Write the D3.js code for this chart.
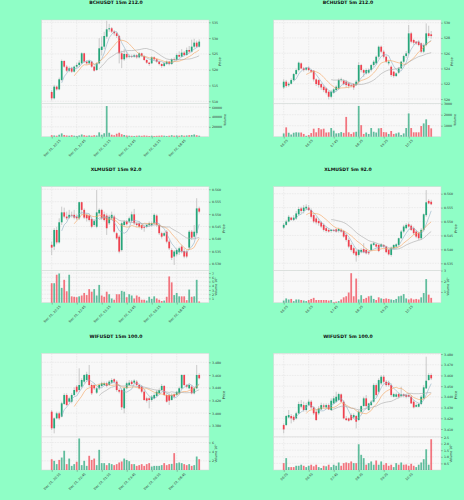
<!DOCTYPE html>
<html><head><meta charset="utf-8">
<script src="https://cdn.jsdelivr.net/npm/d3@7"></script>
<style>html,body{margin:0;padding:0;background:#8ffec6;}svg{display:block;}</style>
</head><body>
<script>
// ---------- DATA ----------
const tickIdx = [0, 10, 20, 30, 40, 50];
const labels15 = ["Dec 01, 20:15","Dec 01, 22:45","Dec 02, 01:15","Dec 02, 03:45","Dec 02, 06:15","Dec 02, 08:45"];
const labels5 = ["06:05","06:55","07:45","08:35","09:25","10:15"];
const maWindows = [5, 10, 20];

// rows: [open, high, low, close, volume]
const bch15 = [
[512.95,513.5,510.3,510.95,3000],[510.95,515.2,510.6,514.64,2500],[514.64,515.0,513.4,513.79,2000],[513.79,517.5,513.5,516.96,4000],
[516.75,523.2,516.4,522.76,6700],[522.76,523.0,520.6,520.97,3500],[520.97,521.5,519.3,519.70,2500],[519.70,521.0,519.2,520.44,2000],
[520.44,520.9,519.0,519.39,3000],[519.39,521.3,519.1,520.97,2000],[520.97,522.2,520.5,521.50,1500],[521.50,523.0,521.0,522.23,2500],
[522.02,525.5,521.8,525.19,4500],[525.19,525.4,522.2,522.55,3000],[522.55,523.0,521.6,522.02,2000],[522.02,523.2,521.7,522.76,2500],
[522.55,522.8,520.6,520.97,2000],[520.97,521.3,519.4,519.70,3000],[519.91,522.4,519.6,522.02,2500],[522.02,530.0,521.7,526.77,8800],
[526.24,530.5,524.5,527.30,4000],[527.30,532.0,526.5,530.67,7000],[530.46,535.5,529.8,532.78,62000],[532.78,534.5,532.0,533.10,8000],
[533.10,533.5,531.6,532.05,4000],[532.05,532.5,530.8,531.52,3000],[531.52,531.9,530.0,530.67,6000],[530.67,531.0,522.0,525.19,8000],
[525.19,526.0,520.5,523.29,5000],[523.29,526.5,522.8,524.98,3500],[524.98,525.5,523.5,523.92,2500],[524.13,524.9,523.6,524.34,2000],
[524.34,524.8,523.7,524.13,1800],[524.13,525.0,523.8,524.56,1500],[524.56,524.9,523.5,523.92,2000],[523.92,525.5,523.6,525.19,2200],
[525.19,525.4,524.0,524.34,1800],[524.34,524.6,522.8,523.08,2500],[523.08,523.3,521.9,522.23,2000],[522.23,522.5,521.2,521.81,1500],
[522.02,524.3,521.8,523.92,2000],[523.92,524.2,522.9,523.29,1500],[523.29,523.5,522.2,522.55,1800],[522.55,522.8,521.4,521.81,2000],
[521.81,522.0,520.6,521.18,2500],[521.18,522.3,520.8,522.02,2000],[521.81,522.9,521.5,522.55,1500],[522.55,522.8,521.4,521.81,2000],
[521.81,523.6,521.5,523.29,3000],[523.29,523.9,522.7,523.08,2000],[523.08,525.2,522.8,524.66,2500],[524.66,525.8,523.8,524.13,2000],
[524.13,526.5,523.9,525.40,3000],[525.40,525.9,524.3,524.66,2000],[524.66,527.0,524.4,526.24,2500],[526.24,527.5,525.3,525.72,3000],
[525.72,529.5,525.4,527.30,3500],[527.30,529.8,526.8,528.56,4500],[528.56,529.2,527.0,527.30,3000],[527.30,529.6,527.0,528.88,2000]
];
const bch5 = [
[521.52,522.6,521.3,522.27,300],[522.27,522.5,521.5,521.70,850],[521.80,522.2,521.6,522.00,360],[522.00,522.7,521.9,522.48,200],
[522.48,523.4,522.3,523.27,360],[523.27,524.0,523.1,523.79,400],[523.79,524.9,523.6,524.76,380],[524.67,524.8,523.9,524.01,380],
[524.01,524.2,523.6,523.79,250],[523.85,524.2,523.7,524.10,80],[524.10,524.3,523.6,523.79,150],[523.79,523.9,523.4,523.58,330],
[523.71,523.8,522.3,522.57,730],[522.57,522.7,521.7,521.96,400],[522.48,522.6,521.5,521.83,790],[521.96,522.1,521.2,521.52,670],
[521.61,521.8,520.9,521.17,730],[521.39,521.5,520.6,520.82,380],[520.95,521.1,519.95,520.30,400],[520.30,521.2,520.1,520.95,790],
[520.82,521.4,520.7,521.26,550],[521.17,521.8,521.0,521.61,300],[521.39,522.7,521.2,522.48,320],[522.48,522.8,522.2,522.57,420],
[522.40,522.6,521.8,521.96,350],[522.27,522.5,521.5,521.83,1800],[522.05,522.2,521.4,521.70,400],[521.83,522.0,521.5,521.74,250],
[521.96,522.1,521.2,521.52,400],[521.83,522.5,521.7,522.27,450],[522.27,524.8,522.0,524.45,2800],[524.45,524.6,523.5,523.79,1050],
[523.79,523.9,522.9,523.45,250],[523.36,524.0,523.2,523.79,380],[523.45,524.0,523.3,523.79,250],[523.79,524.6,523.6,524.45,790],
[524.45,525.1,524.2,524.89,450],[524.67,525.7,524.5,525.54,380],[525.54,527.0,525.3,526.85,760],[526.85,527.0,526.0,526.20,790],
[526.20,526.4,525.3,525.54,420],[525.54,525.7,524.7,524.89,400],[524.67,525.1,524.4,524.89,250],[524.23,524.4,522.9,523.14,520],
[523.58,523.7,522.8,523.01,250],[523.01,523.5,522.9,523.36,300],[523.45,524.2,523.3,524.01,380],[524.01,525.0,523.9,524.89,150],
[524.89,525.8,524.7,525.63,300],[525.63,526.3,525.4,525.98,790],[525.98,529.7,525.8,528.60,2120],[528.60,528.8,527.3,527.51,790],
[527.73,527.9,527.1,527.38,400],[527.51,527.6,527.1,527.29,400],[527.51,527.7,526.9,527.07,400],[527.29,527.4,526.0,526.20,970],
[526.20,527.3,526.0,527.07,1210],[527.07,529.9,526.9,528.60,1580],[528.60,529.6,528.0,528.25,1060],[528.47,528.9,527.9,528.25,760]
];
// XLM volumes in millions
const xlm15 = [
[.5376,.5389,.5335,.5365,4.6],[.5369,.5443,.5355,.5436,4.6],[.5436,.5449,.5378,.5386,6.6],[.5386,.5483,.5381,.5467,6.9],
[.5467,.5530,.5456,.5507,3.5],[.5507,.5526,.5483,.5490,5.4],[.5490,.5510,.5476,.5483,2.7],[.5486,.5517,.5480,.5497,6.6],
[.5497,.5510,.5486,.5494,1.5],[.5497,.5517,.5479,.5486,1.4],[.5490,.5499,.5476,.5483,1.3],[.5483,.5550,.5476,.5548,1.5],
[.5548,.5550,.5497,.5517,1.7],[.5517,.5523,.5480,.5486,2.3],[.5497,.5503,.5470,.5483,1.8],[.5494,.5499,.5470,.5476,3.2],
[.5480,.5486,.5443,.5449,2.6],[.5456,.5480,.5449,.5472,3.2],[.5449,.5597,.5443,.5507,1.7],[.5503,.5523,.5497,.5517,4.2],
[.5517,.5521,.5476,.5483,1.7],[.5499,.5510,.5470,.5476,1.4],[.5494,.5503,.5416,.5443,2.6],[.5463,.5497,.5456,.5488,2.0],
[.5483,.5510,.5476,.5497,1.0],[.5490,.5497,.5423,.5429,0.7],[.5423,.5429,.5396,.5402,2.0],[.5409,.5416,.5342,.5349,2.0],
[.5355,.5470,.5349,.5463,2.8],[.5456,.5476,.5449,.5470,2.6],[.5470,.5476,.5454,.5459,1.3],[.5470,.5490,.5463,.5483,2.0],
[.5472,.5510,.5467,.5499,1.7],[.5499,.5521,.5456,.5463,1.0],[.5462,.5467,.5449,.5456,1.7],[.5463,.5470,.5443,.5449,1.4],
[.5456,.5463,.5436,.5443,0.7],[.5449,.5456,.5429,.5445,0.7],[.5449,.5463,.5443,.5456,0.5],[.5456,.5470,.5449,.5463,1.4],
[.5456,.5470,.5449,.5463,0.9],[.5463,.5503,.5456,.5497,1.5],[.5494,.5499,.5449,.5456,1.0],[.5456,.5463,.5416,.5423,0.7],
[.5423,.5429,.5402,.5409,0.4],[.5413,.5429,.5409,.5423,0.5],[.5429,.5436,.5382,.5389,1.4],[.5389,.5396,.5355,.5362,6.2],
[.5355,.5362,.5315,.5324,4.8],[.5329,.5355,.5295,.5349,1.8],[.5338,.5362,.5329,.5355,2.3],[.5346,.5369,.5335,.5362,1.5],
[.5369,.5376,.5342,.5349,1.5],[.5351,.5362,.5322,.5329,1.5],[.5349,.5355,.5322,.5329,0.6],[.5365,.5436,.5355,.5429,3.1],
[.5429,.5436,.5396,.5405,1.4],[.5409,.5456,.5402,.5429,1.5],[.5423,.5564,.5416,.5523,5.4],[.5523,.5530,.5503,.5510,0.3]
];
const xlm5 = [
[.5478,.5494,.5473,.5488,0.2],[.5488,.5506,.5485,.5500,0.4],[.5500,.5523,.5497,.5517,0.3],[.5514,.5517,.5502,.5506,0.35],
[.5506,.5523,.5502,.5514,0.15],[.5511,.5538,.5506,.5529,0.3],[.5526,.5553,.5523,.5545,0.3],[.5547,.5553,.5529,.5538,0.25],
[.5538,.5559,.5529,.5550,0.2],[.5547,.5562,.5541,.5553,0.15],[.5550,.5559,.5538,.5541,0.25],[.5541,.5547,.5511,.5517,0.35],
[.5523,.5529,.5494,.5500,0.45],[.5511,.5517,.5490,.5497,0.25],[.5502,.5511,.5485,.5494,0.25],[.5497,.5502,.5476,.5482,0.25],
[.5488,.5494,.5464,.5470,0.25],[.5476,.5482,.5460,.5466,0.25],[.5470,.5476,.5460,.5464,0.2],[.5466,.5473,.5460,.5470,0.25],
[.5470,.5473,.5464,.5466,0.05],[.5472,.5476,.5460,.5464,0.1],[.5466,.5478,.5460,.5473,0.15],[.5470,.5476,.5460,.5464,0.3],
[.5466,.5470,.5442,.5446,0.5],[.5452,.5458,.5428,.5434,0.6],[.5434,.5440,.5404,.5410,0.95],[.5416,.5422,.5392,.5398,2.75],
[.5404,.5410,.5380,.5386,0.6],[.5392,.5398,.5356,.5378,2.25],[.5380,.5401,.5374,.5398,0.3],[.5390,.5404,.5386,.5398,0.7],
[.5401,.5422,.5386,.5390,0.35],[.5398,.5404,.5382,.5386,0.45],[.5390,.5394,.5380,.5386,0.6],[.5398,.5422,.5394,.5418,0.65],
[.5416,.5428,.5413,.5422,0.35],[.5418,.5422,.5406,.5410,0.25],[.5416,.5418,.5390,.5394,0.5],[.5410,.5422,.5406,.5418,0.4],
[.5416,.5418,.5406,.5410,0.35],[.5410,.5413,.5386,.5390,0.4],[.5398,.5401,.5378,.5382,0.35],[.5380,.5410,.5374,.5406,0.3],
[.5404,.5418,.5401,.5416,0.25],[.5410,.5422,.5406,.5418,0.35],[.5416,.5442,.5413,.5440,0.6],[.5440,.5470,.5437,.5464,0.65],
[.5464,.5488,.5458,.5482,0.8],[.5476,.5494,.5472,.5488,0.4],[.5490,.5497,.5478,.5482,0.3],[.5485,.5490,.5466,.5470,0.4],
[.5476,.5482,.5452,.5458,0.3],[.5464,.5470,.5440,.5446,0.35],[.5458,.5464,.5434,.5440,0.3],[.5440,.5476,.5434,.5470,0.5],
[.5470,.5529,.5464,.5526,0.9],[.5523,.5613,.5517,.5569,2.2],[.5574,.5580,.5562,.5565,0.75],[.5571,.5578,.5559,.5562,0.45]
];
// WIF volumes in millions
const wif15 = [
[3.4021,3.4048,3.3732,3.3759,2.36],[3.3759,3.3932,3.3680,3.3916,2.0],[3.3916,3.4021,3.3901,3.3995,1.28],[3.3995,3.4021,3.3890,3.3916,2.2],
[3.3943,3.4179,3.3932,3.4153,2.72],[3.4143,3.4311,3.4127,3.4284,4.2],[3.4284,3.4311,3.4111,3.4127,1.28],[3.4179,3.4258,3.4164,3.4232,2.5],
[3.4179,3.4311,3.4153,3.4284,0.9],[3.4284,3.4405,3.4269,3.4363,1.28],[3.4416,3.4442,3.4311,3.4337,1.8],[3.4363,3.4705,3.4337,3.4442,6.88],
[3.4416,3.4548,3.4390,3.4521,1.06],[3.4495,3.4611,3.4469,3.4600,2.0],[3.4521,3.4650,3.4495,3.4611,0.9],[3.4600,3.4758,3.4416,3.4442,3.1],
[3.4442,3.4469,3.4284,3.4311,2.2],[3.4442,3.4469,3.4363,3.4390,2.5],[3.4321,3.4416,3.4300,3.4390,1.06],[3.4390,3.4469,3.4363,3.4442,4.4],
[3.4427,3.4495,3.4405,3.4469,1.5],[3.4442,3.4495,3.4427,3.4469,1.5],[3.4469,3.4495,3.4405,3.4427,1.06],[3.4442,3.4521,3.4427,3.4495,1.5],
[3.4479,3.4548,3.4458,3.4521,1.28],[3.4532,3.4548,3.4469,3.4495,1.06],[3.4495,3.4521,3.4337,3.4363,1.28],[3.4363,3.4390,3.4311,3.4337,1.64],
[3.4363,3.4390,3.4048,3.4090,1.86],[3.4074,3.4416,3.3995,3.4390,2.5],[3.4390,3.4495,3.4374,3.4469,2.2],[3.4442,3.4521,3.4427,3.4479,1.92],
[3.4495,3.4521,3.4442,3.4458,1.28],[3.4479,3.4532,3.4458,3.4511,1.28],[3.4495,3.4521,3.4427,3.4442,0.9],[3.4442,3.4458,3.4374,3.4390,1.06],
[3.4416,3.4442,3.4311,3.4337,1.28],[3.4337,3.4363,3.4195,3.4206,0.9],[3.4232,3.4258,3.4164,3.4195,1.28],[3.4232,3.4258,3.4074,3.4206,1.5],
[3.4206,3.4284,3.4179,3.4258,0.76],[3.4232,3.4311,3.4216,3.4284,0.9],[3.4269,3.4363,3.4248,3.4337,0.9],[3.4311,3.4390,3.4295,3.4363,0.9],
[3.4363,3.4458,3.4353,3.4427,1.06],[3.4427,3.4442,3.4269,3.4284,1.5],[3.4284,3.4311,3.4164,3.4179,1.06],[3.4284,3.4311,3.4127,3.4195,1.28],
[3.4206,3.4311,3.4195,3.4284,1.34],[3.4295,3.4311,3.4232,3.4258,3.68],[3.4284,3.4337,3.4269,3.4337,1.5],[3.4311,3.4416,3.4295,3.4390,1.64],
[3.4390,3.4611,3.4374,3.4600,1.5],[3.4600,3.4611,3.4427,3.4442,1.28],[3.4442,3.4458,3.4390,3.4416,1.06],[3.4390,3.4469,3.4374,3.4442,1.28],
[3.4416,3.4442,3.4295,3.4311,0.9],[3.4311,3.4416,3.4295,3.4390,1.06],[3.4390,3.4758,3.4374,3.4600,2.94],[3.4600,3.4627,3.4532,3.4548,2.36]
];
const wif5 = [
[3.4137,3.4152,3.4059,3.4096,0.52],[3.4137,3.4230,3.4127,3.4221,0.9],[3.4208,3.4277,3.4199,3.4230,0.22],[3.4221,3.4239,3.4152,3.4199,0.22],
[3.4214,3.4230,3.4168,3.4183,0.22],[3.4199,3.4261,3.4189,3.4246,0.32],[3.4246,3.4355,3.4239,3.4333,0.32],[3.4308,3.4370,3.4292,3.4333,0.4],
[3.4323,3.4355,3.4261,3.4277,0.32],[3.4277,3.4345,3.4261,3.4323,0.22],[3.4323,3.4376,3.4314,3.4355,0.32],[3.4355,3.4370,3.4283,3.4302,0.4],
[3.4302,3.4314,3.4230,3.4246,0.28],[3.4261,3.4277,3.4177,3.4183,0.4],[3.4246,3.4314,3.4230,3.4292,0.22],[3.4283,3.4345,3.4277,3.4323,0.15],
[3.4320,3.4339,3.4292,3.4308,0.32],[3.4302,3.4339,3.4292,3.4323,0.28],[3.4323,3.4339,3.4277,3.4283,0.4],[3.4277,3.4386,3.4270,3.4364,0.22],
[3.4339,3.4408,3.4333,3.4386,0.4],[3.4355,3.4448,3.4345,3.4401,0.32],[3.4370,3.4439,3.4364,3.4426,0.57],[3.4423,3.4432,3.4345,3.4355,0.32],
[3.4355,3.4370,3.4189,3.4199,0.52],[3.4199,3.4221,3.4177,3.4183,0.57],[3.4199,3.4208,3.4168,3.4177,0.52],[3.4230,3.4246,3.4177,3.4183,0.65],
[3.4208,3.4246,3.4199,3.4230,0.52],[3.4221,3.4230,3.4105,3.4168,0.52],[3.4183,3.4277,3.4177,3.4261,1.95],[3.4261,3.4320,3.4252,3.4314,1.15],
[3.4314,3.4401,3.4308,3.4386,0.9],[3.4386,3.4417,3.4302,3.4314,0.4],[3.4277,3.4345,3.4270,3.4339,0.52],[3.4323,3.4370,3.4314,3.4355,0.65],
[3.4355,3.4526,3.4345,3.4510,0.4],[3.4510,3.4526,3.4401,3.4417,0.72],[3.4448,3.4573,3.4432,3.4557,0.4],[3.4526,3.4604,3.4510,3.4588,0.65],
[3.4588,3.4604,3.4526,3.4541,0.4],[3.4541,3.4557,3.4495,3.4510,0.52],[3.4532,3.4551,3.4495,3.4510,0.32],[3.4510,3.4526,3.4401,3.4417,0.4],
[3.4401,3.4439,3.4395,3.4426,0.22],[3.4401,3.4439,3.4395,3.4423,0.52],[3.4426,3.4439,3.4386,3.4401,0.4],[3.4408,3.4495,3.4395,3.4423,0.57],
[3.4423,3.4432,3.4395,3.4408,0.4],[3.4417,3.4426,3.4386,3.4401,0.42],[3.4417,3.4426,3.4395,3.4401,0.32],[3.4401,3.4417,3.4333,3.4339,0.47],
[3.4355,3.4370,3.4292,3.4302,0.32],[3.4308,3.4339,3.4302,3.4323,0.22],[3.4308,3.4345,3.4302,3.4333,0.4],[3.4333,3.4417,3.4323,3.4401,0.57],
[3.4386,3.4510,3.4376,3.4489,0.82],[3.4479,3.4775,3.4474,3.4551,1.57],[3.4557,3.4620,3.4551,3.4604,0.4],[3.4604,3.4620,3.4557,3.4573,2.33]
];

const bch15PriceTicks = [510,515,520,525,530,535];
const bch5PriceTicks = [520,522,524,526,528,530];
const xlm15PriceTicks = [0.530,0.535,0.540,0.545,0.550,0.555,0.560];
const xlm5PriceTicks = [0.535,0.540,0.545,0.550,0.555,0.560];
const wif15PriceTicks = [3.38,3.40,3.42,3.44,3.46,3.48];
const wif5PriceTicks = [3.41,3.42,3.43,3.44,3.45,3.46,3.47,3.48];
const bch15VolTicks = [20000,40000,60000];
const bch5VolTicks = [1000,2000,3000];
const xlm15VolTicks = [1,2,3,4,5,6,7];
const xlm5VolTicks = [1,2,3];
const wif15VolTicks = [2,4,6];
const wif5VolTicks = [0.5,1.0,1.5,2.0,2.5];

// ---------- LAYOUT / STYLE ----------
const W = 464, H = 500;
const UP = "#26a67a", DOWN = "#f0414f", WICK = "#a3a3a3";
const MA_COLORS = ["#8fb0c4", "#f5a25d", "#a9a9a9"];
const FONT = "'DejaVu Sans', sans-serif";
const TICK_FS = 3.2;
const cols = [{x0:41.7, x1:209, cx:116}, {x0:273.7, x1:441, cx:348}];
const rows = [
  {t:20, s:103.3, b:136.7, ty:4.4},
  {t:186.7, s:270.5, b:302.7, ty:171.4},
  {t:353.3, s:437, b:470, ty:337.9}
];
const panels = [
  {title:"BCHUSDT 15m 212.0", data:bch15, labels:labels15, pt:bch15PriceTicks, vt:bch15VolTicks, yd:[509.37,535.73], vd:[0,67500], pf:d3.format("d"), vf:d3.format("d"), vl:"Volume", r:0, c:0},
  {title:"BCHUSDT 5m 212.0", data:bch5, labels:labels5, pt:bch5PriceTicks, vt:bch5VolTicks, yd:[519.44,530.35], vd:[0,3040], pf:d3.format("d"), vf:d3.format("d"), vl:"Volume", r:0, c:1},
  {title:"XLMUSDT 15m 92.0", data:xlm15, labels:labels15, pt:xlm15PriceTicks, vt:xlm15VolTicks, yd:[0.52726,0.56105], vd:[0,7.6], pf:d3.format(".3f"), vf:d3.format("d"), vl:"Volume  10\u2076", r:1, c:0},
  {title:"XLMUSDT 5m 92.0", data:xlm5, labels:labels5, pt:xlm5PriceTicks, vt:xlm5VolTicks, yd:[0.53241,0.56251], vd:[0,3.0], pf:d3.format(".3f"), vf:d3.format("d"), vl:"Volume  10\u2076", r:1, c:1},
  {title:"WIFUSDT 15m 100.0", data:wif15, labels:labels15, pt:wif15PriceTicks, vt:wif15VolTicks, yd:[3.3622,3.4942], vd:[0,7.2], pf:d3.format(".3f"), vf:d3.format("d"), vl:"Volume  10\u2076", r:2, c:0},
  {title:"WIFUSDT 5m 100.0", data:wif5, labels:labels5, pt:wif5PriceTicks, vt:wif5VolTicks, yd:[3.4025,3.4807], vd:[0,2.5], pf:d3.format(".3f"), vf:d3.format(".1f"), vl:"Volume  10\u2076", r:2, c:1}
];

const svg = d3.select("body").append("svg").attr("width", W).attr("height", H)
  .style("font-family", FONT);
svg.append("rect").attr("width", W).attr("height", H).attr("fill", "#8ffec6");

panels.forEach(p => {
  const col = cols[p.c], row = rows[p.r];
  const g = svg.append("g");
  const x = d3.scaleLinear().domain([-4, 62.92]).range([col.x0, col.x1]);
  const y = d3.scaleLinear().domain(p.yd).range([row.s, row.t]);
  const yv = d3.scaleLinear().domain(p.vd).range([row.b, row.s]);
  const bw = (x(1) - x(0)) * 0.7;

  // title
  g.append("text").attr("x", col.cx).attr("y", row.ty).attr("text-anchor", "middle")
    .attr("font-size", 4.6).attr("font-weight", "bold").attr("fill", "#111").text(p.title);

  // backgrounds
  g.append("rect").attr("x", col.x0).attr("y", row.t).attr("width", col.x1 - col.x0).attr("height", row.s - row.t)
    .attr("fill", "#f8f8f8").attr("stroke", "#d6d6d6").attr("stroke-width", 0.5);
  g.append("rect").attr("x", col.x0).attr("y", row.s).attr("width", col.x1 - col.x0).attr("height", row.b - row.s)
    .attr("fill", "#f8f8f8").attr("stroke", "#d6d6d6").attr("stroke-width", 0.5);

  // grid
  const grid = g.append("g").attr("stroke", "#dedede").attr("stroke-width", 0.45).attr("stroke-dasharray", "1.6,1");
  tickIdx.forEach(i => grid.append("line").attr("x1", x(i)).attr("x2", x(i)).attr("y1", row.t).attr("y2", row.b));
  p.pt.forEach(v => grid.append("line").attr("x1", col.x0).attr("x2", col.x1).attr("y1", y(v)).attr("y2", y(v)));
  p.vt.forEach(v => { if (yv(v) >= row.s - 0.1) grid.append("line").attr("x1", col.x0).attr("x2", col.x1).attr("y1", yv(v)).attr("y2", yv(v)); });

  // volume bars
  g.append("g").selectAll("rect").data(p.data).join("rect")
    .attr("x", (d, i) => x(i) - bw / 2).attr("width", bw)
    .attr("y", d => yv(d[4])).attr("height", d => row.b - yv(d[4]))
    .attr("fill", d => d[3] >= d[0] ? UP : DOWN).attr("fill-opacity", 0.72);

  // wicks
  g.append("g").selectAll("line").data(p.data).join("line")
    .attr("x1", (d, i) => x(i)).attr("x2", (d, i) => x(i))
    .attr("y1", d => y(d[1])).attr("y2", d => y(d[2]))
    .attr("stroke", WICK).attr("stroke-width", 0.55);
  // bodies
  g.append("g").selectAll("rect").data(p.data).join("rect")
    .attr("x", (d, i) => x(i) - bw / 2).attr("width", bw)
    .attr("y", d => y(Math.max(d[0], d[3])))
    .attr("height", d => Math.max(0.5, Math.abs(y(d[0]) - y(d[3]))))
    .attr("fill", d => d[3] >= d[0] ? UP : DOWN);

  // moving averages
  const closes = p.data.map(d => d[3]);
  maWindows.forEach((w, k) => {
    const pts = [];
    for (let i = w - 1; i < closes.length; i++) pts.push([i, d3.mean(closes.slice(i - w + 1, i + 1))]);
    g.append("path").datum(pts)
      .attr("d", d3.line().x(d => x(d[0])).y(d => y(d[1])))
      .attr("fill", "none").attr("stroke", MA_COLORS[k]).attr("stroke-width", 0.6);
  });

  // axes
  const styleAxis = a => {
    a.selectAll("text").attr("font-size", TICK_FS).attr("fill", "#333").attr("font-family", FONT);
    a.selectAll(".tick line").attr("stroke", "#555").attr("stroke-width", 0.4);
    a.select(".domain").remove();
  };
  const ay = g.append("g").attr("transform", `translate(${col.x1},0)`)
    .call(d3.axisRight(y).tickValues(p.pt).tickFormat(p.pf).tickSize(1.8).tickPadding(1.2));
  styleAxis(ay);
  const av = g.append("g").attr("transform", `translate(${col.x1},0)`)
    .call(d3.axisRight(yv).tickValues(p.vt).tickFormat(p.vf).tickSize(1.8).tickPadding(1.2));
  styleAxis(av);
  const ax = g.append("g").attr("transform", `translate(0,${row.b})`)
    .call(d3.axisBottom(x).tickValues(tickIdx).tickFormat((d, i) => p.labels[i]).tickSize(1.8).tickPadding(1));
  styleAxis(ax);
  // rotated labels, centred on their tick (matplotlib rotation=45, ha=center)
  ax.selectAll(".tick text").each(function () {
    const t = d3.select(this);
    const L = this.getComputedTextLength();
    const cy = 2.3 + L * 0.3536 + TICK_FS * 0.3536;
    t.attr("y", 0).attr("dy", "0.35em").attr("text-anchor", "middle")
      .attr("transform", `translate(0,${cy}) rotate(-45)`);
  });

  // axis labels (placed right of the widest tick label)
  const maxW = sel => d3.max(sel.selectAll(".tick text").nodes(), n => n.getComputedTextLength());
  const pw = maxW(ay), vw = maxW(av);
  g.append("text").attr("transform", `translate(${col.x1 + 3.2 + pw + 3.2},${(row.t + row.s) / 2}) rotate(-90)`)
    .attr("text-anchor", "middle").attr("font-size", 3.4).attr("fill", "#333").text("Price");
  g.append("text").attr("transform", `translate(${col.x1 + 3.2 + vw + 3.2},${(row.s + row.b) / 2}) rotate(-90)`)
    .attr("text-anchor", "middle").attr("font-size", 3.2).attr("fill", "#333").text(p.vl);
});
</script>
</body></html>
